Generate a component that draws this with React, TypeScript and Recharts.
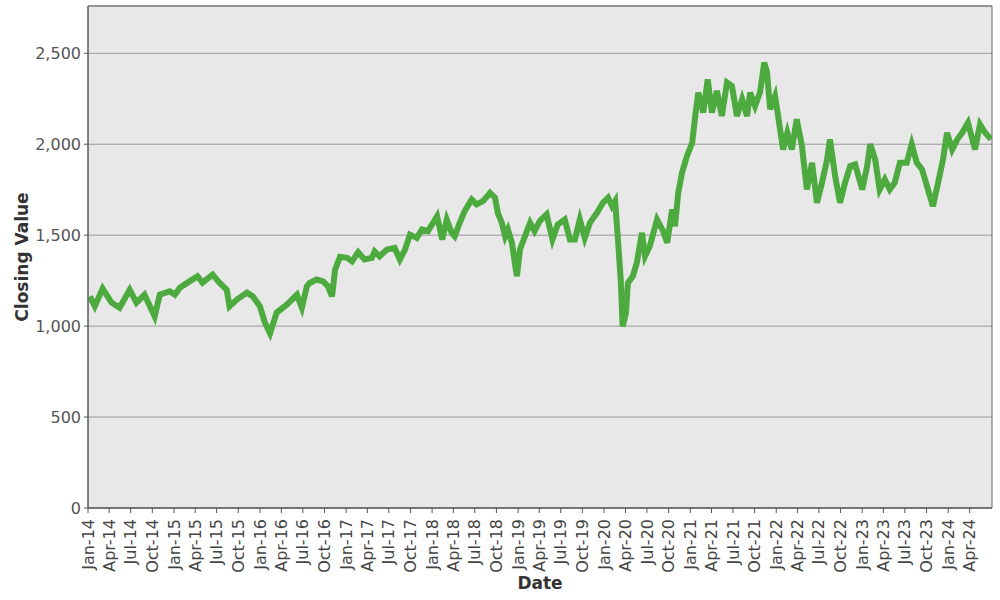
import { LineChart, Line, XAxis, YAxis, CartesianGrid, ReferenceArea, Label } from "recharts";

// closing values, roughly every few weeks
const dates = [
  "2014-01-09", "2014-01-30", "2014-03-04", "2014-04-11", "2014-05-15", "2014-06-27", "2014-07-26", "2014-08-29",
  "2014-10-11", "2014-11-02", "2014-12-14", "2015-01-05", "2015-01-26", "2015-03-08", "2015-04-11", "2015-05-02",
  "2015-06-14", "2015-07-13", "2015-08-13", "2015-08-25", "2015-09-24", "2015-11-07", "2015-12-02", "2016-01-01",
  "2016-01-22", "2016-02-13", "2016-03-12", "2016-04-24", "2016-06-06", "2016-06-27", "2016-07-18", "2016-07-30",
  "2016-08-29", "2016-09-25", "2016-10-16", "2016-11-02", "2016-11-15", "2016-12-06", "2017-01-05", "2017-01-26",
  "2017-02-21", "2017-03-20", "2017-04-20", "2017-05-02", "2017-05-23", "2017-06-23", "2017-07-26", "2017-08-17",
  "2017-09-08", "2017-09-29", "2017-10-28", "2017-11-19", "2017-12-14", "2018-01-05", "2018-01-22", "2018-02-13",
  "2018-03-04", "2018-03-25", "2018-04-07", "2018-04-28", "2018-05-19", "2018-06-18", "2018-07-09", "2018-08-05",
  "2018-09-04", "2018-09-25", "2018-10-07", "2018-10-24", "2018-11-07", "2018-11-19", "2018-12-06", "2018-12-18",
  "2018-12-27", "2019-01-09", "2019-01-30", "2019-02-21", "2019-03-12", "2019-04-03", "2019-05-02", "2019-05-27",
  "2019-06-18", "2019-07-18", "2019-08-09", "2019-08-30", "2019-09-20", "2019-10-11", "2019-11-02", "2019-12-02",
  "2019-12-27", "2020-01-18", "2020-02-04", "2020-02-17", "2020-02-28", "2020-03-12", "2020-03-20", "2020-04-03",
  "2020-04-11", "2020-05-02", "2020-05-19", "2020-06-10", "2020-06-23", "2020-07-13", "2020-08-13", "2020-09-08",
  "2020-09-25", "2020-10-16", "2020-10-28", "2020-11-11", "2020-11-27", "2020-12-18", "2021-01-09", "2021-01-22",
  "2021-02-04", "2021-02-25", "2021-03-16", "2021-04-03", "2021-04-24", "2021-05-15", "2021-06-06", "2021-06-27",
  "2021-07-18", "2021-08-09", "2021-08-30", "2021-09-12", "2021-10-03", "2021-10-24", "2021-11-11", "2021-11-23",
  "2021-12-06", "2021-12-27", "2022-01-09", "2022-01-30", "2022-02-17", "2022-03-08", "2022-03-29", "2022-04-20",
  "2022-05-11", "2022-06-02", "2022-06-23", "2022-07-14", "2022-08-05", "2022-08-17", "2022-09-08", "2022-09-29",
  "2022-10-20", "2022-11-11", "2022-12-02", "2023-01-01", "2023-01-22", "2023-02-04", "2023-02-25", "2023-03-16",
  "2023-04-07", "2023-04-28", "2023-05-19", "2023-06-10", "2023-07-09", "2023-07-30", "2023-08-21", "2023-09-12",
  "2023-10-03", "2023-10-28", "2023-11-19", "2023-12-10", "2023-12-27", "2024-01-18", "2024-02-09", "2024-02-29",
  "2024-03-25", "2024-04-24", "2024-05-15", "2024-06-06", "2024-07-01",
];

const closing = [
  1163, 1109, 1206, 1129, 1101, 1200, 1129, 1173,
  1053, 1173, 1191, 1173, 1211, 1246, 1274, 1239,
  1283, 1239, 1200, 1109, 1145, 1184, 1163, 1109,
  1019, 960, 1074, 1118, 1173, 1101, 1219, 1237,
  1256, 1246, 1219, 1163, 1311, 1381, 1375, 1356,
  1406, 1366, 1375, 1411, 1384, 1421, 1430, 1366,
  1421, 1503, 1485, 1531, 1522, 1568, 1604, 1476,
  1586, 1513, 1494, 1568, 1632, 1696, 1669, 1687,
  1733, 1706, 1623, 1568, 1494, 1531, 1458, 1348,
  1274, 1421, 1494, 1568, 1522, 1577, 1614, 1476,
  1558, 1586, 1476, 1476, 1586, 1485, 1568, 1623,
  1678, 1706, 1659, 1687, 1494, 1250, 998, 1072,
  1237, 1274, 1348, 1513, 1384, 1439, 1586, 1522,
  1458, 1641, 1549, 1733, 1843, 1935, 2008, 2155,
  2284, 2174, 2357, 2174, 2293, 2155, 2339, 2320,
  2155, 2247, 2155, 2284, 2210, 2284, 2449, 2394,
  2192, 2265, 2155, 1971, 2063, 1971, 2137, 1990,
  1751, 1898, 1678, 1788, 1916, 2027, 1825, 1678,
  1788, 1880, 1889, 1751, 1880, 2000, 1916, 1751,
  1806, 1751, 1788, 1898, 1898, 2000, 1898, 1861,
  1770, 1659, 1788, 1916, 2063, 1971, 2027, 2063,
  2118, 1971, 2109, 2063, 2027,
];

const yTicks = [0, 500, 1000, 1500, 2000, 2500];
const monthNames = ["Jan", "Feb", "Mar", "Apr", "May", "Jun", "Jul", "Aug", "Sep", "Oct", "Nov", "Dec"];

const xStart = Date.UTC(2014, 0, 1);
const xEnd = Date.UTC(2024, 6, 5);
const yMax = 2760;

const quarterTicks: number[] = [];
for (let y = 2014; y <= 2024; y++) {
  for (let m = 0; m < 12; m += 3) {
    const t = Date.UTC(y, m, 1);
    if (t <= Date.UTC(2024, 3, 1)) quarterTicks.push(t);
  }
}

const data = dates.map((d, i) => ({ t: Date.parse(d), value: closing[i] }));

const fmtDate = (t: number) => {
  const d = new Date(t);
  return `${monthNames[d.getUTCMonth()]}-${String(d.getUTCFullYear()).slice(2)}`;
};

const font = "'DejaVu Sans', sans-serif";

function RotTick(props: any) {
  const { x, y, payload } = props;
  return (
    <text
      x={x}
      y={y + 4}
      transform={`rotate(-90 ${x} ${y + 4})`}
      textAnchor="end"
      dy="0.35em"
      fontSize={16}
      fontFamily={font}
      fill="#444"
    >
      {fmtDate(payload.value)}
    </text>
  );
}

export default function App() {
  return (
    <div style={{ position: "absolute", left: 0, top: 0, width: 1000, height: 600 }}>
      <LineChart width={1000} height={600} data={data} margin={{ top: 6, right: 8, bottom: 0, left: 0 }}>
        <CartesianGrid vertical={false} fill="#e8e8e8" stroke="#999" strokeWidth={1} />
        <ReferenceArea x1={xStart} x2={xEnd} y1={0} y2={yMax} fill="none" stroke="#666" strokeWidth={1} ifOverflow="extendDomain" />
        <XAxis
          dataKey="t"
          type="number"
          domain={[xStart, xEnd]}
          ticks={quarterTicks}
          tick={<RotTick />}
          tickSize={5}
          height={92}
          stroke="#555"
          interval={0}
          allowDataOverflow
        >
          <Label
            content={() => (
              <text x={540} y={589} textAnchor="middle" fontSize={17} fontWeight="bold" fontFamily={font} fill="#333">
                Date
              </text>
            )}
          />
        </XAxis>
        <YAxis
          type="number"
          domain={[0, yMax]}
          ticks={yTicks}
          width={88}
          tickSize={4}
          tickMargin={3}
          stroke="#555"
          tick={{ fontSize: 16, fontFamily: font, fill: "#555" }}
          tickFormatter={(v: number) => v.toLocaleString("en-US")}
          allowDataOverflow
        >
          <Label
            content={() => (
              <text
                x={28}
                y={257}
                transform="rotate(-90 28 257)"
                textAnchor="middle"
                fontSize={17}
                fontWeight="bold"
                fontFamily={font}
                fill="#333"
              >
                Closing Value
              </text>
            )}
          />
        </YAxis>
        <Line
          type="linear"
          dataKey="value"
          stroke="#4caa3e"
          strokeWidth={6}
          dot={false}
          isAnimationActive={false}
        />
      </LineChart>
    </div>
  );
}
